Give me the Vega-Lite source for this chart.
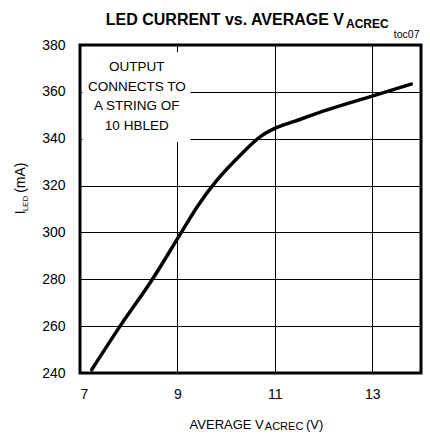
{
  "$schema": "https://vega.github.io/schema/vega-lite/v6.json",
  "autosize": "none",
  "padding": {"left": 80, "top": 45, "right": 9, "bottom": 62},
  "width": 341,
  "height": 328,
  "background": "white",
  "config": {
    "view": {"stroke": "black", "strokeWidth": 3},
    "axis": {
      "domain": false,
      "ticks": false,
      "grid": true,
      "gridColor": "black",
      "gridWidth": 1,
      "gridOpacity": 1,
      "labelFont": "Liberation Sans",
      "labelFontSize": 14,
      "labelColor": "black"
    },
    "text": {"font": "Liberation Sans", "color": "black"}
  },
  "layer": [
    {
      "data": {"values": [
        {"x": 7.24, "y": 241.4},
        {"x": 7.82, "y": 259.9},
        {"x": 8.48, "y": 279.8},
        {"x": 9.03, "y": 298.3},
        {"x": 9.41, "y": 311.1},
        {"x": 9.82, "y": 322.5},
        {"x": 10.30, "y": 333.2},
        {"x": 10.71, "y": 341.0},
        {"x": 11.02, "y": 344.6},
        {"x": 11.40, "y": 347.4},
        {"x": 12.09, "y": 352.4},
        {"x": 12.98, "y": 358.1},
        {"x": 13.80, "y": 363.3}
      ]},
      "mark": {"type": "line", "color": "black", "strokeWidth": 3.5, "interpolate": "monotone", "strokeCap": "round"},
      "encoding": {
        "x": {"field": "x", "type": "quantitative", "title": null,
              "scale": {"domain": [7, 14], "nice": false, "zero": false},
              "axis": {"values": [7, 9, 11, 13], "labelPadding": 14}},
        "y": {"field": "y", "type": "quantitative", "title": null,
              "scale": {"domain": [240, 380], "nice": false, "zero": false},
              "axis": {"values": [240, 260, 280, 300, 320, 340, 360, 380], "labelPadding": 15}}
      }
    },
    {
      "data": {"values": [{}]},
      "mark": {"type": "rect", "fill": "white", "stroke": null},
      "encoding": {
        "x": {"datum": 7.05, "type": "quantitative", "title": null},
        "x2": {"datum": 9.27},
        "y": {"datum": 376.9, "type": "quantitative", "title": null},
        "y2": {"datum": 338.6}
      }
    },
    {
      "data": {"values": [{}]},
      "mark": {"type": "text", "text": ["OUTPUT", "CONNECTS  TO", "A STRING  OF", "10 HBLED"],
               "fontSize": 13.5, "lineHeight": 19.5, "align": "center", "baseline": "middle"},
      "encoding": {
        "x": {"datum": 8.165, "type": "quantitative", "title": null},
        "y": {"datum": 370.4, "type": "quantitative", "title": null}
      }
    },
    {
      "data": {"values": [{}]},
      "mark": {"type": "text", "text": "LED CURRENT vs. AVERAGE V", "fontSize": 16, "fontWeight": "bold",
               "align": "right", "baseline": "alphabetic"},
      "encoding": {
        "x": {"datum": 12.42, "type": "quantitative", "title": null},
        "y": {"datum": 388.7, "type": "quantitative", "title": null}
      }
    },
    {
      "data": {"values": [{}]},
      "mark": {"type": "text", "text": "ACREC", "fontSize": 12, "fontWeight": "bold",
               "align": "left", "baseline": "alphabetic"},
      "encoding": {
        "x": {"datum": 12.46, "type": "quantitative", "title": null},
        "y": {"datum": 387.4, "type": "quantitative", "title": null}
      }
    },
    {
      "data": {"values": [{}]},
      "mark": {"type": "text", "text": "toc07", "fontSize": 10.5,
               "align": "right", "baseline": "alphabetic"},
      "encoding": {
        "x": {"datum": 13.97, "type": "quantitative", "title": null},
        "y": {"datum": 383.1, "type": "quantitative", "title": null}
      }
    },
    {
      "data": {"values": [{}]},
      "mark": {"type": "text", "text": "AVERAGE V", "fontSize": 13,
               "align": "right", "baseline": "alphabetic"},
      "encoding": {
        "x": {"datum": 10.773, "type": "quantitative", "title": null},
        "y": {"datum": 216.2, "type": "quantitative", "title": null}
      }
    },
    {
      "data": {"values": [{}]},
      "mark": {"type": "text", "text": "ACREC", "fontSize": 11,
               "align": "left", "baseline": "alphabetic"},
      "encoding": {
        "x": {"datum": 10.794, "type": "quantitative", "title": null},
        "y": {"datum": 215.6, "type": "quantitative", "title": null}
      }
    },
    {
      "data": {"values": [{}]},
      "mark": {"type": "text", "text": "(V)", "fontSize": 13,
               "align": "left", "baseline": "alphabetic"},
      "encoding": {
        "x": {"datum": 11.639, "type": "quantitative", "title": null},
        "y": {"datum": 216.2, "type": "quantitative", "title": null}
      }
    },
    {
      "data": {"values": [{}]},
      "mark": {"type": "text", "text": "I", "fontSize": 14, "angle": 270,
               "align": "left", "baseline": "alphabetic"},
      "encoding": {
        "x": {"datum": 5.866, "type": "quantitative", "title": null},
        "y": {"datum": 307.8, "type": "quantitative", "title": null}
      }
    },
    {
      "data": {"values": [{}]},
      "mark": {"type": "text", "text": "LED", "fontSize": 8, "angle": 270,
               "align": "left", "baseline": "alphabetic"},
      "encoding": {
        "x": {"datum": 5.934, "type": "quantitative", "title": null},
        "y": {"datum": 309.0, "type": "quantitative", "title": null}
      }
    },
    {
      "data": {"values": [{}]},
      "mark": {"type": "text", "text": "(mA)", "fontSize": 14, "angle": 270,
               "align": "left", "baseline": "alphabetic"},
      "encoding": {
        "x": {"datum": 5.866, "type": "quantitative", "title": null},
        "y": {"datum": 316.9, "type": "quantitative", "title": null}
      }
    }
  ]
}
